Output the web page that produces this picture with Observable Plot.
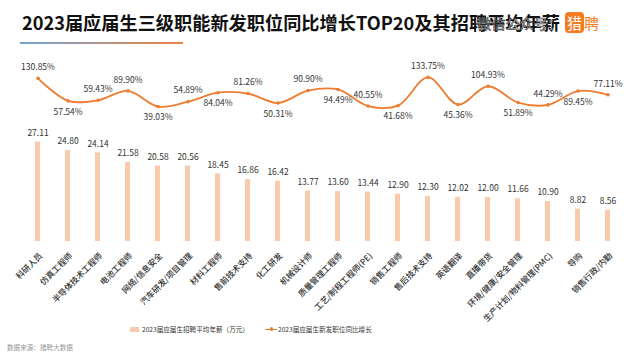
<!DOCTYPE html>
<html><head><meta charset="utf-8">
<script src="https://cdn.jsdelivr.net/npm/d3@7"></script>
<script src="https://cdn.jsdelivr.net/npm/@observablehq/plot@0.6"></script>
<style>
body{margin:0;width:640px;height:360px;overflow:hidden;background:#fff;font-family:"Noto Sans CJK SC","Noto Sans",sans-serif;position:relative;}
#head{position:relative;height:46px;}
#title{position:absolute;left:22px;top:9px;font-size:18.2px;font-weight:bold;color:#111;white-space:nowrap;line-height:26px;}
#wm{position:absolute;left:477px;top:11px;font-size:14.2px;line-height:24px;color:#fff;-webkit-text-stroke:0.6px #333;white-space:nowrap;}
#logo{position:absolute;left:565px;top:12px;white-space:nowrap;font-size:15px;line-height:21px;}
#logo .box{display:inline-block;background:#F47B20;color:#fff;border-radius:4px;padding:0 2px;}
#logo .p{color:#F47B20;}
#rule{position:absolute;left:20px;top:42px;width:163px;height:1.5px;background:linear-gradient(90deg,#6FA3D8,#F0803C);}
svg{display:block;}
#legend{position:absolute;top:324px;left:0;width:640px;height:10px;font-size:6.6px;color:#333;}
#legend .sw{position:absolute;left:130px;top:2.5px;width:9px;height:5px;background:#F8CBAD;}
#legend .t1{position:absolute;left:142px;top:0;line-height:10px;white-space:nowrap;}
#legend .ln{position:absolute;left:265px;top:4.5px;width:12px;height:1.2px;background:#ED7D31;}
#legend .dt{position:absolute;left:269.5px;top:3.3px;width:3.5px;height:3.5px;border-radius:50%;background:#ED7D31;}
#legend .t2{position:absolute;left:278px;top:0;line-height:10px;white-space:nowrap;}
#source{position:absolute;left:7px;top:342px;font-size:6.6px;line-height:10px;color:#999;white-space:nowrap;}
</style></head><body>
<div id="head">
  <div id="title">2023届应届生三级职能新发职位同比增长TOP20及其招聘平均年薪</div>
  <div id="wm">微信公众号：</div>
  <div id="logo"><span class="box">猎</span><span class="p">聘</span></div>
  <div id="rule"></div>
</div>
<div id="topChart"></div>
<div id="bottomChart"></div>
<div id="legend">
  <div class="sw"></div><div class="t1">2023届应届生招聘平均年薪（万元）</div>
  <div class="ln"></div><div class="dt"></div><div class="t2">2023届应届生新发职位同比增长</div>
</div>
<div id="source">数据来源：猎聘大数据</div>
<script>
const categories = ["科研人员","仿真工程师","半导体技术工程师","电池工程师","网络/信息安全","汽车研发/项目管理","材料工程师","售前技术支持","化工研发","机械设计师","质量管理工程师","工艺/制程工程师(PE)","销售工程师","售后技术支持","英语翻译","直播带货","环境/健康/安全管理","生产计划/物料管理(PMC)","导购","销售行政/内勤"];
const salary = [27.11,24.80,24.14,21.58,20.58,20.56,18.45,16.86,16.42,13.77,13.60,13.44,12.90,12.30,12.02,12.00,11.66,10.90,8.82,8.56];
const growth = [130.85,57.54,59.43,89.90,39.03,54.89,84.04,81.26,50.31,90.90,94.49,40.55,41.68,133.75,45.36,104.93,51.89,44.29,89.45,77.11];
const growthLabelBelow = [1,4,6,8,10,12,14,16,18];

const rows = categories.map((c,i)=>({cat:c, salary:salary[i], growth:growth[i], below:growthLabelBelow.includes(i)}));

const ML = 20.4, MR = 15.6;
const xScale = {type:"band", domain:categories, paddingInner:0.85, paddingOuter:0.425, axis:null};
const font = {fontFamily:'"Noto Sans CJK SC","Noto Sans",sans-serif', background:"transparent", overflow:"visible"};
const orange = "#ED7D31";

const lineChart = Plot.plot({
  width:640, height:79, marginTop:29, marginBottom:7, marginLeft:ML, marginRight:MR,
  style:font,
  x:xScale,
  y:{domain:[0,140], axis:null},
  marks:[
    Plot.line(rows,{x:"cat", y:"growth", curve:"catmull-rom", stroke:orange, strokeWidth:1.8}),
    Plot.dot(rows,{x:"cat", y:"growth", r:1.8, fill:orange}),
    Plot.text(rows.filter(d=>!d.below),{x:"cat", y:"growth", text:d=>d.growth.toFixed(2)+"%", dy:-11, fontSize:8.5, fill:"#333"}),
    Plot.text(rows.filter(d=>d.below),{x:"cat", y:"growth", text:d=>d.growth.toFixed(2)+"%", dy:11, fontSize:8.5, fill:"#333"})
  ]
});
document.getElementById("topChart").append(lineChart);

const barChart = Plot.plot({
  width:640, height:197, marginTop:6, marginBottom:81, marginLeft:ML, marginRight:MR,
  style:font,
  x:xScale,
  y:{domain:[0,30], axis:null},
  marks:[
    Plot.barY(rows,{x:"cat", y:"salary", fill:"#F8CBAD"}),
    Plot.text(rows,{x:"cat", y:"salary", text:d=>d.salary.toFixed(2), dy:-9, fontSize:8.5, fill:"#333"}),
    Plot.text(rows,{x:"cat", y:()=>0, text:"cat", rotate:-45, textAnchor:"end", dx:3, dy:13, fontSize:8.3, fill:"#333", fontWeight:500})
  ]
});
document.getElementById("bottomChart").append(barChart);
</script>
</body></html>
